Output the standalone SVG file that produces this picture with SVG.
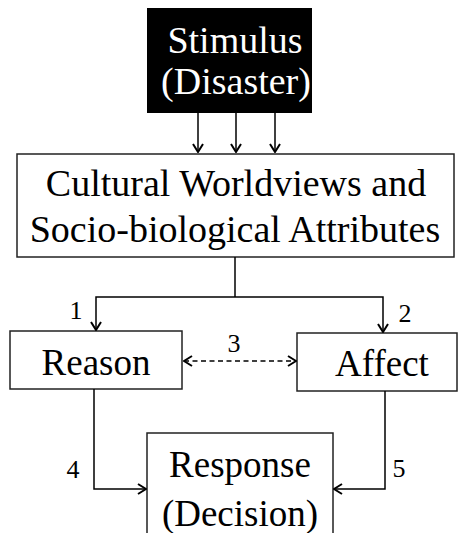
<svg xmlns="http://www.w3.org/2000/svg" width="458" height="533" viewBox="0 0 458 533">
<style>
  .box{fill:#fff;stroke:#222;stroke-width:1.5}
  .t{font-family:'Liberation Serif','Tinos','DejaVu Serif',serif;font-size:37px;fill:#000;text-anchor:middle}
  .w{fill:#fff}
  .n{font-family:'Liberation Serif','Tinos','DejaVu Serif',serif;font-size:26px;fill:#000;text-anchor:middle}
  .c{fill:none;stroke:#000;stroke-width:1.5}
  .d{stroke-dasharray:5,3.5}
</style>
<defs>
  <marker id="ah" viewBox="0 0 10 12" refX="9" refY="6" markerWidth="10" markerHeight="12" markerUnits="userSpaceOnUse" orient="auto-start-reverse">
    <path d="M1,1 L9,6 L1,11" fill="none" stroke="#000" stroke-width="2"/>
  </marker>
</defs>
<g id="stimulus">
  <rect x="147" y="8" width="165" height="105" fill="#000"/>
  <text class="t w" x="235" y="53" style="font-size:38px">Stimulus</text>
  <text class="t w" x="236" y="94" style="font-size:38px">(Disaster)</text>
</g>
<g id="cultural">
  <rect class="box" x="17" y="154" width="437" height="103"/>
  <text class="t" x="236" y="196" style="font-size:38px">Cultural Worldviews and</text>
  <text class="t" x="235" y="242" style="font-size:38px">Socio-biological Attributes</text>
</g>
<g id="reason">
  <rect class="box" x="10" y="331" width="172" height="58"/>
  <text class="t" x="96" y="375">Reason</text>
</g>
<g id="affect">
  <rect class="box" x="297" y="333" width="160" height="58"/>
  <text class="t" x="382" y="376">Affect</text>
</g>
<g id="response">
  <rect class="box" x="147" y="433" width="186" height="110"/>
  <text class="t" x="240" y="477">Response</text>
  <text class="t" x="240" y="526">(Decision)</text>
</g>
<g id="connectors">
  <path class="c" d="M198,113 V152" marker-end="url(#ah)"/>
  <path class="c" d="M236,113 V152" marker-end="url(#ah)"/>
  <path class="c" d="M275,113 V152" marker-end="url(#ah)"/>
  <path class="c" d="M235,257 V297"/>
  <path class="c" d="M235,297 H96 V330" marker-end="url(#ah)"/>
  <path class="c" d="M235,297 H383 V332" marker-end="url(#ah)"/>
  <path class="c d" d="M184,361 H296" marker-start="url(#ah)" marker-end="url(#ah)"/>
  <path class="c" d="M94,389 V489 H146" marker-end="url(#ah)"/>
  <path class="c" d="M385,391 V489 H334" marker-end="url(#ah)"/>
</g>
<g id="labels">
  <text class="n" x="76" y="319">1</text>
  <text class="n" x="405" y="322">2</text>
  <text class="n" x="234" y="352">3</text>
  <text class="n" x="73" y="478">4</text>
  <text class="n" x="399" y="477">5</text>
</g>
</svg>
